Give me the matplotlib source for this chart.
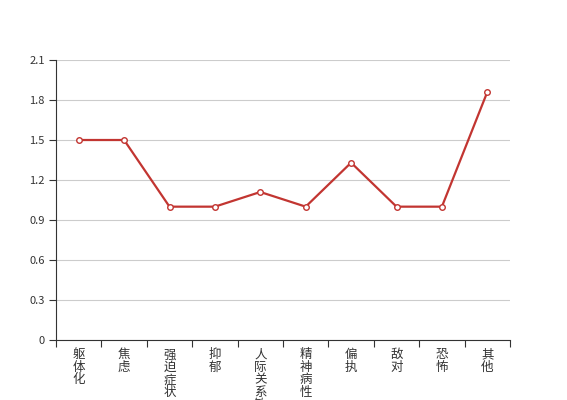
import matplotlib.pyplot as plt
import numpy as np

plt.rcParams['font.family'] = ['Noto Sans CJK SC', 'DejaVu Sans']

categories = ["躯体化", "焦虑", "强迫症状", "抑郁", "人际关系敏感",
              "精神病性", "偏执", "敌对", "恐怖", "其他"]
values = [1.5, 1.5, 1.0, 1.0, 1.11, 1.0, 1.33, 1.0, 1.0, 1.86]
yticks = [0, 0.3, 0.6, 0.9, 1.2, 1.5, 1.8, 2.1]

fig = plt.figure(figsize=(5.67, 4.0), dpi=100)
ax = fig.add_axes([56 / 567, 60 / 400, 454 / 567, 280 / 400])

x = np.arange(len(categories))
ax.plot(x, values, color="#c23531", linewidth=1.6, marker="o", markersize=4,
        markerfacecolor="white", markeredgecolor="#c23531", markeredgewidth=1,
        zorder=3, clip_on=False)

ax.set_xlim(-0.5, len(categories) - 0.5)
ax.set_ylim(0, 2.1)
ax.set_yticks(yticks)
ax.set_yticklabels([("%g" % v) for v in yticks], fontsize=8, color="#333333")
ax.yaxis.grid(True, color="#cccccc", linewidth=0.8)
ax.set_axisbelow(True)

ax.set_xticks(np.arange(-0.5, len(categories), 1.0))
ax.set_xticklabels([])
ax.set_xticks(x, minor=True)
ax.set_xticklabels(["\n".join(c) for c in categories], minor=True,
                   fontsize=9, color="#333333", va="top", linespacing=0.95)
ax.tick_params(axis="x", which="minor", length=0, pad=6)
ax.tick_params(axis="x", which="major", length=5, color="#333333")
ax.tick_params(axis="y", length=5, color="#333333", pad=3)

for s in ["top", "right"]:
    ax.spines[s].set_visible(False)
for s in ["left", "bottom"]:
    ax.spines[s].set_color("#333333")

fig.savefig("out.png", dpi=100)
